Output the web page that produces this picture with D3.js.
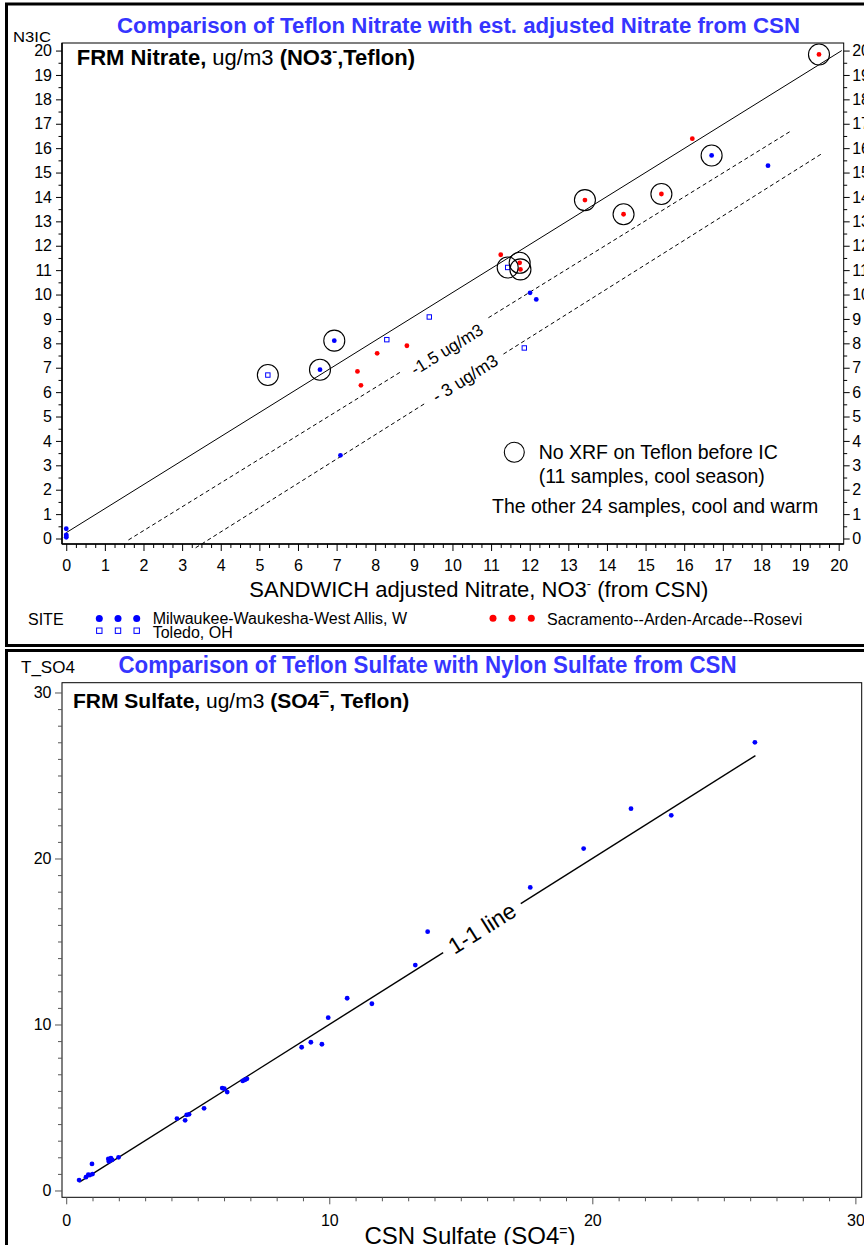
<!DOCTYPE html>
<html><head><meta charset="utf-8">
<script src="https://cdn.jsdelivr.net/npm/d3@7"></script>
<style>
body{margin:0;background:#fff}
svg{display:block}
text{font-family:"Liberation Sans",Arial,Helvetica,sans-serif}
</style>
</head><body>
<svg id="c" width="864" height="1245"></svg>
<script>
// ---------------- DATA : top chart (nitrate) ----------------
const milwaukeeX     = [0, 0, 0, 0, 7.10, 6.57, 6.94, 12.01, 12.17, 16.71, 18.17];
const milwaukeeY     = [0.40, 0.15, 0.10, 0.05, 3.41, 6.92, 8.11, 10.07, 9.80, 15.70, 15.28];
const milwaukeeNoXRF = [0, 0, 0, 0, 0, 1, 1, 0, 0, 1, 0];

const toledoX     = [5.22, 8.30, 9.40, 11.43, 11.86];
const toledoY     = [6.70, 8.15, 9.08, 11.11, 7.81];
const toledoNoXRF = [1, 0, 0, 1, 0];

const sacramentoX     = [7.54, 7.63, 8.05, 8.82, 11.25, 11.74, 11.76, 13.43, 14.43, 15.41, 16.21, 19.49];
const sacramentoY     = [6.85, 6.28, 7.59, 7.90, 11.63, 11.30, 11.03, 13.87, 13.29, 14.12, 16.39, 19.84];
const sacramentoNoXRF = [0, 0, 0, 0, 0, 1, 1, 1, 1, 1, 0, 1];

// reference lines of the top chart: [x,y] end points, label gap (x range)
const nitrateLine     = [[0, 0.24], [20.08, 20]];
const minus15Line     = [[1.61, -0.06], [18.76, 16.70]];
const minus15Gap      = [8.64, 10.93];
const minus3Line      = [[3.35, -0.38], [19.55, 15.76]];
const minus3Gap       = [9.33, 11.32];

const topXTicks = [0,1,2,3,4,5,6,7,8,9,10,11,12,13,14,15,16,17,18,19,20];
const topYTicks = [0,1,2,3,4,5,6,7,8,9,10,11,12,13,14,15,16,17,18,19,20];

// ---------------- DATA : bottom chart (sulfate) ----------------
const csnSulfate = [0.49, 0.75, 0.84, 0.90, 0.98, 1.00, 1.60, 1.65, 1.70, 1.75, 1.62, 1.99,
  4.21, 4.52, 4.58, 4.67, 5.24, 5.93, 6.01, 6.12, 6.71, 6.80, 6.87, 8.95, 9.30, 9.72, 9.96,
  10.68, 11.62, 13.27, 13.74, 17.64, 19.67, 21.47, 23.00, 26.18];
const teflonSulfate = [0.63, 0.80, 0.95, 0.93, 1.60, 0.99, 1.90, 1.80, 1.95, 1.85, 1.75, 2.00,
  4.33, 4.23, 4.55, 4.59, 4.95, 6.17, 6.13, 5.93, 6.60, 6.67, 6.73, 8.63, 8.93, 8.81, 10.41,
  11.58, 11.25, 13.58, 15.59, 18.26, 20.60, 23.00, 22.60, 27.00];
const oneOneLine = [[0.5, 0.5], [26.2, 26.2]];
const oneOneGap  = [14.33, 17.28];

const botXTicks = [0, 10, 20, 30];
const botYTicks = [0, 10, 20, 30];

// ---------------- drawing ----------------
const svg = d3.select("#c");
const FONT = '"Liberation Sans",Arial,Helvetica,sans-serif';
const BLUE = "#0000ff", RED = "#ff0000", TITLE = "#3535ff";

// panel borders
svg.append("rect").attr("x",6.5).attr("y",4).attr("width",880).attr("height",641.5)
  .attr("fill","none").attr("stroke","#000").attr("stroke-width",3);
svg.append("rect").attr("x",6.5).attr("y",650.5).attr("width",880).attr("height",700)
  .attr("fill","none").attr("stroke","#000").attr("stroke-width",3);

function interp(pts, xv){
  return pts[0][1] + (xv - pts[0][0]) * (pts[1][1] - pts[0][1]) / (pts[1][0] - pts[0][0]);
}

function drawRefLine(g, xs, ys, pts, gap, dash, width){
  let segs;
  if (gap) {
    segs = [[pts[0], [gap[0], interp(pts, gap[0])]], [[gap[1], interp(pts, gap[1])], pts[1]]];
  } else segs = [pts];
  segs.forEach(s => {
    g.append("line")
      .attr("x1", xs(s[0][0])).attr("y1", ys(s[0][1]))
      .attr("x2", xs(s[1][0])).attr("y2", ys(s[1][1]))
      .attr("stroke","#000").attr("stroke-width", width)
      .attr("stroke-dasharray", dash || null);
  });
}
function drawLineLabel(g, xs, ys, pts, gap, txt, size, off){
  const xm = (gap[0] + gap[1]) / 2, ym = interp(pts, xm);
  const ang = Math.atan2(ys(pts[1][1]) - ys(pts[0][1]), xs(pts[1][0]) - xs(pts[0][0])) * 180 / Math.PI;
  g.append("text")
    .attr("transform", `translate(${xs(xm)},${ys(ym)}) rotate(${ang}) translate(0,${off})`)
    .attr("text-anchor","middle").attr("dy","0.35em")
    .attr("font-size", size).attr("fill","#000").text(txt);
}
function styleAxis(g, size){
  g.attr("font-family", FONT).attr("font-size", size);
  g.selectAll(".domain").remove();
  g.selectAll("line").attr("stroke","#000");
  g.selectAll("text").attr("fill","#000");
}

// ================= TOP CHART =================
const tL = 62, tR = 843.7, tT = 43, tB = 544;
const x1 = d3.scaleLinear().domain([-0.11, 20.13]).range([tL, tR]);
const y1 = d3.scaleLinear().domain([-0.225, 20.31]).range([tB, tT]);
const topG = svg.append("g");

topG.append("rect").attr("x",tL).attr("y",tT).attr("width",tR-tL).attr("height",tB-tT)
  .attr("fill","none").attr("stroke","#000").attr("stroke-width",1);

// axes
const topYMinor = d3.range(0.5, 20.01, 1);
const topXMinor = d3.range(0, 20.01, 0.25).filter(v => Math.abs(v - Math.round(v)) > 1e-6);

styleAxis(topG.append("g").attr("transform",`translate(${tL},0)`)
  .call(d3.axisLeft(y1).tickValues(topYTicks).tickSize(6).tickPadding(4).tickFormat(d3.format("d"))), 16);
styleAxis(topG.append("g").attr("transform",`translate(${tL},0)`)
  .call(d3.axisLeft(y1).tickValues(topYMinor).tickSize(3.5).tickFormat("")), 16);
styleAxis(topG.append("g").attr("transform",`translate(${tR},0)`)
  .call(d3.axisRight(y1).tickValues(topYTicks).tickSize(6).tickPadding(2.5).tickFormat(d3.format("d"))), 16);
styleAxis(topG.append("g").attr("transform",`translate(${tR},0)`)
  .call(d3.axisRight(y1).tickValues(topYMinor).tickSize(3.5).tickFormat("")), 16);
styleAxis(topG.append("g").attr("transform",`translate(0,${tB})`)
  .call(d3.axisBottom(x1).tickValues(topXTicks).tickSize(7).tickPadding(9).tickFormat(d3.format("d"))), 16);
styleAxis(topG.append("g").attr("transform",`translate(0,${tB})`)
  .call(d3.axisBottom(x1).tickValues(topXMinor).tickSize(4).tickFormat("")), 16);
topG.append("line").attr("x1",tL).attr("x2",tL).attr("y1",tT).attr("y2",tB).attr("stroke","#000").attr("stroke-width",1.5);
topG.append("line").attr("x1",tL).attr("x2",tR).attr("y1",tB).attr("y2",tB).attr("stroke","#000").attr("stroke-width",1.5);

// reference lines
drawRefLine(topG, x1, y1, nitrateLine, null, null, 1);
drawRefLine(topG, x1, y1, minus15Line, minus15Gap, "4,3", 1);
drawRefLine(topG, x1, y1, minus3Line, minus3Gap, "4,3", 1);
drawLineLabel(topG, x1, y1, minus15Line, minus15Gap, "-1.5 ug/m3", 17, 5);
drawLineLabel(topG, x1, y1, minus3Line, minus3Gap, "- 3 ug/m3", 17.5, 0);

// points
const zipPts = (xs, ys, f) => xs.map((v,i) => ({x:v, y:ys[i], c:f[i]}));
const mil = zipPts(milwaukeeX, milwaukeeY, milwaukeeNoXRF);
const tol = zipPts(toledoX, toledoY, toledoNoXRF);
const sac = zipPts(sacramentoX, sacramentoY, sacramentoNoXRF);

topG.selectAll(".mil").data(mil).join("circle")
  .attr("cx", d => x1(d.x)).attr("cy", d => y1(d.y)).attr("r", 2.4).attr("fill", BLUE);
topG.selectAll(".sac").data(sac).join("circle")
  .attr("cx", d => x1(d.x)).attr("cy", d => y1(d.y)).attr("r", 2.4).attr("fill", RED);
topG.selectAll(".tol").data(tol).join("rect")
  .attr("x", d => x1(d.x) - 2.2).attr("y", d => y1(d.y) - 2.2).attr("width", 4.4).attr("height", 4.4)
  .attr("fill","#fff").attr("stroke", BLUE).attr("stroke-width", 1);
topG.selectAll(".noxrf").data([...mil, ...tol, ...sac].filter(d => d.c)).join("circle")
  .attr("cx", d => x1(d.x)).attr("cy", d => y1(d.y)).attr("r", 10.5)
  .attr("fill","none").attr("stroke","#000").attr("stroke-width", 1.1);

// in-plot legend
topG.append("circle").attr("cx",514.3).attr("cy",452.3).attr("r",10).attr("fill","none").attr("stroke","#000").attr("stroke-width",1.1);
topG.append("text").attr("x",538.7).attr("y",459).attr("font-size",19.5).text("No XRF on Teflon before IC");
topG.append("text").attr("x",538.7).attr("y",483).attr("font-size",19.5).text("(11 samples, cool season)");
topG.append("text").attr("x",492).attr("y",513).attr("font-size",19.5).text("The other 24 samples, cool and warm");

// titles / labels
svg.append("text").attr("x",117).attr("y",32.5).attr("font-size",22).attr("font-weight","bold")
  .attr("fill",TITLE).attr("textLength",683).attr("lengthAdjust","spacingAndGlyphs")
  .text("Comparison of Teflon Nitrate with est. adjusted Nitrate from CSN");
svg.append("text").attr("x",13).attr("y",41.5).attr("font-size",15)
  .attr("textLength",38).attr("lengthAdjust","spacingAndGlyphs").text("N3IC");

const frm = svg.append("text").attr("x",76.7).attr("y",65).attr("font-size",22);
frm.append("tspan").attr("font-weight","bold").text("FRM Nitrate,");
frm.append("tspan").text(" ug/m3 ");
frm.append("tspan").attr("font-weight","bold").text("(NO3");
frm.append("tspan").attr("font-weight","bold").attr("font-size",15).attr("dy",-9).text("-");
frm.append("tspan").attr("font-weight","bold").attr("dy",9).text(",Teflon)");

const xl = svg.append("text").attr("x",249.3).attr("y",597.3).attr("font-size",22);
xl.append("tspan").text("SANDWICH adjusted Nitrate, NO3");
xl.append("tspan").attr("font-size",13).attr("dy",-9).text("-");
xl.append("tspan").attr("dy",9).text(" (from CSN)");

// site legend
svg.append("text").attr("x",28).attr("y",624.5).attr("font-size",16).text("SITE");
const legX = [99.3, 118, 136.7];
svg.selectAll(".lgm").data(legX).join("circle").attr("cx",d=>d).attr("cy",618.5).attr("r",3.5).attr("fill",BLUE);
svg.selectAll(".lgt").data(legX).join("rect").attr("x",d=>d-2.7).attr("y",628).attr("width",5.4).attr("height",5.4)
  .attr("fill","#fff").attr("stroke",BLUE).attr("stroke-width",1);
svg.append("text").attr("x",152.7).attr("y",623.5).attr("font-size",16).text("Milwaukee-Waukesha-West Allis, W");
svg.append("text").attr("x",152.7).attr("y",637.5).attr("font-size",16).text("Toledo, OH");
const legR = [493, 512, 531.3];
svg.selectAll(".lgs").data(legR).join("circle").attr("cx",d=>d).attr("cy",618.3).attr("r",3.5).attr("fill",RED);
svg.append("text").attr("x",547).attr("y",624.5).attr("font-size",16).text("Sacramento--Arden-Arcade--Rosevi");

// ================= BOTTOM CHART =================
const bL = 62, bR = 861.7, bT = 682.7, bB = 1197.3;
const x2 = d3.scaleLinear().domain([-0.16, 30.24]).range([bL, bR]);
const y2 = d3.scaleLinear().domain([-0.41, 30.59]).range([bB, bT]);
const botG = svg.append("g");

botG.append("rect").attr("x",bL).attr("y",bT).attr("width",bR-bL).attr("height",bB-bT)
  .attr("fill","none").attr("stroke","#000").attr("stroke-width",1);

const botMinor = d3.range(0, 30.01, 1).filter(v => v % 10 !== 0);
styleAxis(botG.append("g").attr("transform",`translate(${bL},0)`)
  .call(d3.axisLeft(y2).tickValues(botYTicks).tickSize(7).tickPadding(3.5).tickFormat(d3.format("d"))), 16);
styleAxis(botG.append("g").attr("transform",`translate(${bL},0)`)
  .call(d3.axisLeft(y2).tickValues(botMinor).tickSize(4).tickFormat("")), 16);
styleAxis(botG.append("g").attr("transform",`translate(0,${bB})`)
  .call(d3.axisBottom(x2).tickValues(botXTicks).tickSize(7).tickPadding(10).tickFormat(d3.format("d"))), 16);
styleAxis(botG.append("g").attr("transform",`translate(0,${bB})`)
  .call(d3.axisBottom(x2).tickValues(botMinor).tickSize(4).tickFormat("")), 16);
botG.selectAll(".tick line").attr("stroke","#555");

drawRefLine(botG, x2, y2, oneOneLine, oneOneGap, null, 1.4);
drawLineLabel(botG, x2, y2, oneOneLine, oneOneGap, "1-1 line", 23, 0);

botG.selectAll(".so4").data(csnSulfate.map((v,i)=>({x:v, y:teflonSulfate[i]}))).join("circle")
  .attr("cx", d => x2(d.x)).attr("cy", d => y2(d.y)).attr("r", 2.4).attr("fill", BLUE);

svg.append("text").attr("x",118.5).attr("y",673).attr("font-size",23).attr("font-weight","bold")
  .attr("fill",TITLE).attr("textLength",618).attr("lengthAdjust","spacingAndGlyphs")
  .text("Comparison of Teflon Sulfate with Nylon Sulfate from CSN");
svg.append("text").attr("x",21).attr("y",672.7).attr("font-size",17).text("T_SO4");

const frs = svg.append("text").attr("x",73).attr("y",708.3).attr("font-size",21);
frs.append("tspan").attr("font-weight","bold").text("FRM Sulfate,");
frs.append("tspan").text(" ug/m3 ");
frs.append("tspan").attr("font-weight","bold").text("(SO4");
frs.append("tspan").attr("font-weight","bold").attr("font-size",17).attr("dy",-8).text("=");
frs.append("tspan").attr("font-weight","bold").attr("dy",8).text(", Teflon)");

const xl2 = svg.append("text").attr("x",470).attr("y",1244).attr("text-anchor","middle").attr("font-size",24);
xl2.append("tspan").text("CSN Sulfate (SO4");
xl2.append("tspan").attr("font-size",14).attr("dy",-8).text("=");
xl2.append("tspan").attr("dy",8).text(")");
</script>
</body></html>
